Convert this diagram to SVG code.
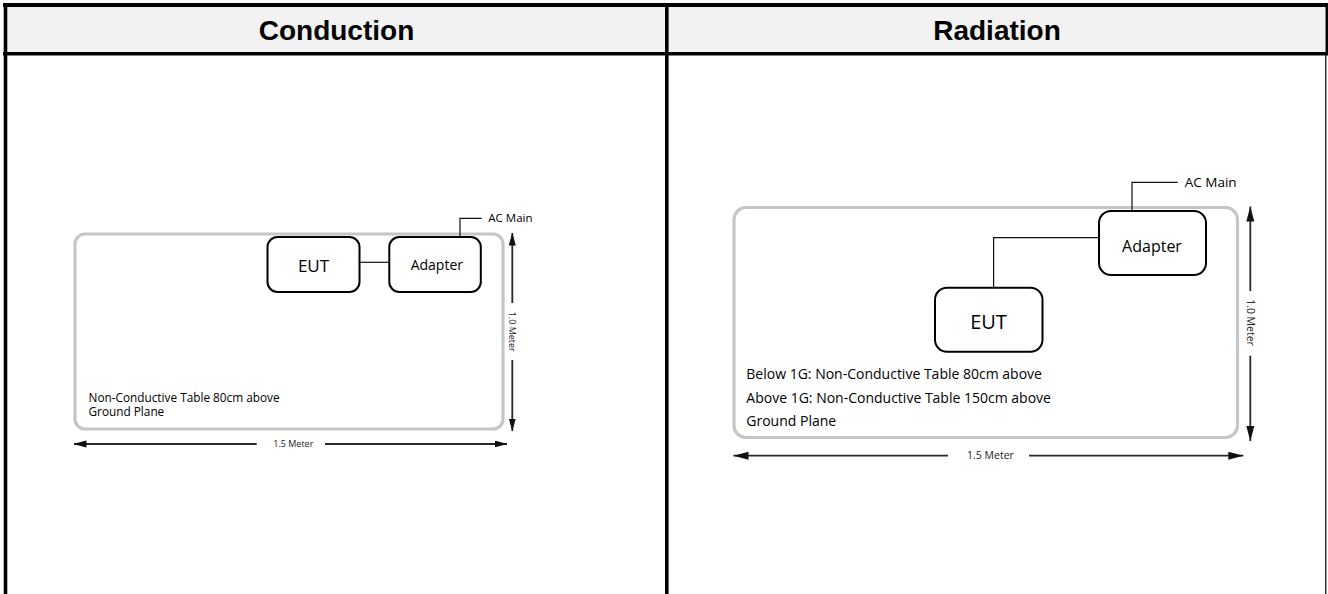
<svg xmlns="http://www.w3.org/2000/svg" width="1328" height="594" viewBox="0 0 1328 594">
  <style>
    .hdr { font-family: "Liberation Sans", Arial, sans-serif; font-weight: bold; font-size: 28px; fill: #000; text-anchor: middle; }
    .lbl { font-family: "Open Sans", "Liberation Sans", sans-serif; fill: #000; }
    .mid { text-anchor: middle; }
    .table { fill: none; stroke: #c6c6c6; stroke-width: 3.2; }
    .box { fill: #fff; stroke: #000; stroke-width: 2; }
    .wire { fill: none; stroke: #111; stroke-width: 1.2; }
    .dim { fill: none; stroke: #2a2a2a; stroke-width: 1.8; }
    .dimtxt { font-family: "Open Sans", "Liberation Sans", sans-serif; fill: #222; text-anchor: middle; }
    .grid { stroke: #000; fill: none; }
  </style>
  <defs>
    <marker id="ahS" markerUnits="userSpaceOnUse" markerWidth="13" markerHeight="8" refX="12.5" refY="3.5" orient="auto">
      <path d="M0,0 L13,3.5 L0,7 z" fill="#111"/>
    </marker>
    <marker id="ahL" markerUnits="userSpaceOnUse" markerWidth="16" markerHeight="9" refX="15" refY="4" orient="auto">
      <path d="M0,0 L15,4 L0,8 z" fill="#111"/>
    </marker>
  </defs>

  <rect width="1328" height="594" fill="#fff"/>

  <!-- table frame -->
  <g id="frame">
    <rect x="7" y="7" width="1318" height="45.5" fill="#f2f2f2"/>
    <line class="grid" x1="3" y1="5" x2="1328" y2="5" stroke-width="4"/>
    <line class="grid" x1="5.5" y1="3" x2="5.5" y2="594" stroke-width="3.6"/>
    <line class="grid" x1="3" y1="53.8" x2="1328" y2="53.8" stroke-width="3.6"/>
    <line class="grid" x1="666.8" y1="3" x2="666.8" y2="594" stroke-width="3.6"/>
    <line class="grid" x1="1326.8" y1="3" x2="1326.8" y2="55" stroke-width="2.6"/>
    <line class="grid" x1="1325.8" y1="55" x2="1325.8" y2="594" stroke-width="1.2"/>
    <text class="hdr" x="336.5" y="40">Conduction</text>
    <text class="hdr" x="997" y="40">Radiation</text>
  </g>

  <!-- ===== Conduction ===== -->
  <g id="cond-table">
    <rect class="table" x="75" y="234" width="428" height="195" rx="10"/>
    <text class="lbl" x="88.5" y="401.7" font-size="11.8">Non-Conductive Table 80cm above</text>
    <text class="lbl" x="88.5" y="416" font-size="11.8">Ground Plane</text>
  </g>
  <g id="cond-eut">
    <rect class="box" x="267.5" y="237" width="92" height="55" rx="10"/>
    <text class="lbl mid" x="313.5" y="272" font-size="17">EUT</text>
  </g>
  <g id="cond-adapter">
    <rect class="box" x="389.3" y="237" width="91.5" height="55" rx="10"/>
    <text class="lbl mid" x="436.8" y="270" font-size="14">Adapter</text>
  </g>
  <g id="cond-acmain">
    <text class="lbl" x="488.3" y="221.7" font-size="11.5">AC Main</text>
  </g>

  <!-- ===== Radiation ===== -->
  <g id="rad-table">
    <rect class="table" x="734" y="207.5" width="503.5" height="230" rx="12"/>
    <text class="lbl" x="746.3" y="379.3" font-size="14">Below 1G: Non-Conductive Table 80cm above</text>
    <text class="lbl" x="746.3" y="402.7" font-size="14">Above 1G: Non-Conductive Table 150cm above</text>
    <text class="lbl" x="746.3" y="426" font-size="14">Ground Plane</text>
  </g>
  <g id="rad-adapter">
    <rect class="box" x="1099" y="211" width="107" height="64" rx="12"/>
    <text class="lbl mid" x="1152" y="252.3" font-size="16">Adapter</text>
  </g>
  <g id="rad-eut">
    <rect class="box" x="935" y="287.7" width="107.5" height="64" rx="12"/>
    <text class="lbl mid" x="988.5" y="329" font-size="20">EUT</text>
  </g>
  <g id="rad-acmain">
    <text class="lbl" x="1184.7" y="186.7" font-size="13.5">AC Main</text>
  </g>

  <!-- dimension labels -->
  <g id="dims">
    <text class="dimtxt" x="293.3" y="446.7" font-size="9">1.5 Meter</text>
    <text class="dimtxt" transform="translate(512.3,331.7) rotate(90)" y="3" font-size="9">1.0 Meter</text>
    <text class="dimtxt" x="990.5" y="458.8" font-size="10.5">1.5 Meter</text>
    <text class="dimtxt" transform="translate(1250.3,322.5) rotate(90)" y="3.5" font-size="10.5">1.0 Meter</text>
  </g>

  <!-- connectors -->
  <g id="connectors">
    <line class="wire" x1="359.5" y1="262.3" x2="389.3" y2="262.3"/>
    <polyline class="wire" points="460,237 460,218.3 481.7,218.3"/>
    <polyline class="wire" points="993.6,287.7 993.6,237.7 1099,237.7"/>
    <polyline class="wire" points="1132,211 1132,182.3 1177.7,182.3"/>

    <line class="dim" x1="256.7" y1="444" x2="74" y2="444" marker-end="url(#ahS)"/>
    <line class="dim" x1="325" y1="444" x2="507" y2="444" marker-end="url(#ahS)"/>
    <line class="dim" x1="512.3" y1="303" x2="512.3" y2="233" marker-end="url(#ahS)"/>
    <line class="dim" x1="512.3" y1="360" x2="512.3" y2="431" marker-end="url(#ahS)"/>

    <line class="dim" x1="948" y1="455.7" x2="733.5" y2="455.7" marker-end="url(#ahL)"/>
    <line class="dim" x1="1029" y1="455.7" x2="1243.3" y2="455.7" marker-end="url(#ahL)"/>
    <line class="dim" x1="1250.3" y1="291" x2="1250.3" y2="206.5" marker-end="url(#ahL)"/>
    <line class="dim" x1="1250.3" y1="355.7" x2="1250.3" y2="441" marker-end="url(#ahL)"/>
  </g>
</svg>
